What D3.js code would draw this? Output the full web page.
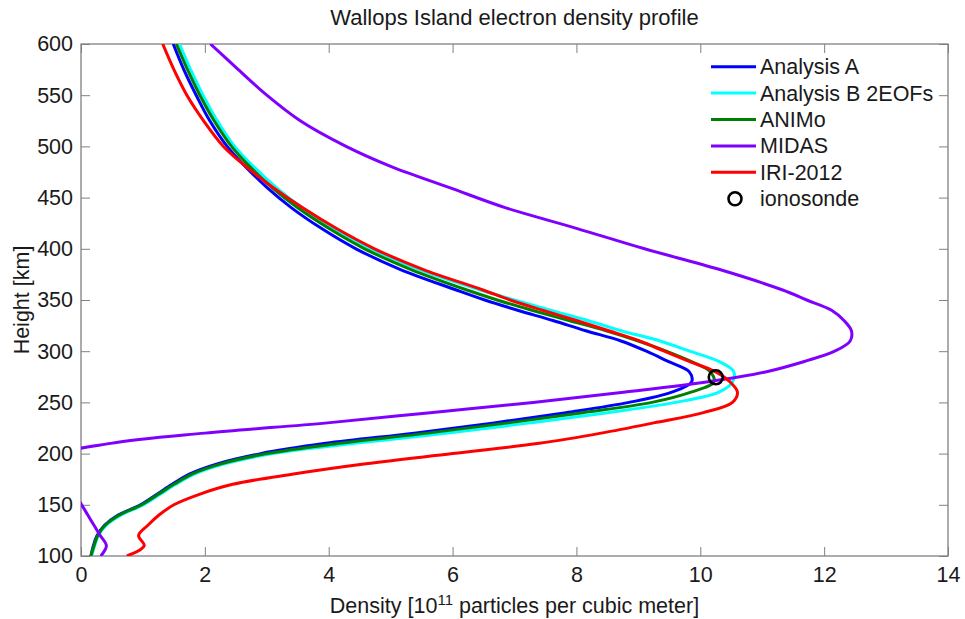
<!DOCTYPE html>
<html><head><meta charset="utf-8">
<script src="https://cdn.jsdelivr.net/npm/d3@7"></script>
<style>
body{margin:0;background:#fff}
text{font-family:"Liberation Sans",Arial,Helvetica,sans-serif}
</style>
</head><body>
<svg id="c" width="965" height="619"></svg>
<script>
// ---- data ----
const heights = [100,110,120,130,140,150,160,170,180,190,200,210,220,230,240,250,260,270,280,290,300,310,320,330,340,350,360,380,400,420,440,460,480,500,525,550,575,600];
const analysisA = [0.16,0.20,0.26,0.38,0.60,0.96,1.22,1.47,1.75,2.20,2.90,3.95,5.38,6.67,7.83,8.85,9.54,9.86,9.82,9.48,9.13,8.72,8.15,7.62,7.05,6.52,6.05,5.15,4.44,3.88,3.40,3.00,2.66,2.36,2.08,1.86,1.66,1.49];
const analysisB = [0.17,0.22,0.28,0.41,0.65,1.01,1.27,1.53,1.83,2.32,3.10,4.42,5.92,7.25,8.50,9.60,10.30,10.52,10.54,10.30,9.83,9.35,8.72,8.18,7.58,7.00,6.44,5.45,4.67,4.07,3.57,3.15,2.79,2.48,2.20,1.97,1.77,1.59];
const animo     = [0.16,0.21,0.27,0.39,0.62,0.98,1.24,1.50,1.79,2.26,3.00,4.18,5.60,6.90,8.10,9.22,9.85,10.22,10.16,9.85,9.45,9.00,8.48,7.88,7.28,6.72,6.22,5.32,4.58,4.00,3.50,3.08,2.73,2.43,2.15,1.92,1.72,1.54];
const midas     = [0.32,0.41,0.31,0.21,0.11,0.01,-0.10,-0.20,-0.30,-0.35,-0.25,0.48,2.00,3.98,5.64,7.30,8.76,10.10,11.07,11.68,12.17,12.42,12.44,12.32,12.12,11.72,11.32,10.30,9.10,8.00,6.86,5.94,5.02,4.28,3.54,3.00,2.54,2.09];
const iri2012   = [0.74,1.02,0.93,1.08,1.26,1.50,1.90,2.45,3.43,4.60,6.00,7.40,8.40,9.25,10.05,10.52,10.60,10.48,10.24,9.82,9.42,9.02,8.52,8.00,7.45,6.93,6.48,5.52,4.74,4.12,3.58,3.10,2.67,2.30,1.98,1.71,1.50,1.32];
const ionosonde = {density: 10.25, height: 274.5};
const seriesNames  = ["Analysis A","Analysis B 2EOFs","ANIMo","MIDAS","IRI-2012"];
const seriesValues = [analysisA, analysisB, animo, midas, iri2012];
const seriesColors = ["#0000ff","#00ffff","#008000","#8000ff","#ff0000"];
const xTicks = [0,2,4,6,8,10,12,14];
const yTicks = [100,150,200,250,300,350,400,450,500,550,600];

// ---- layout ----
const L = 81, R = 948, T = 44, B = 556;
const svg = d3.select("#c");
const x = d3.scaleLinear().domain([0,14]).range([L,R]);
const y = d3.scaleLinear().domain([100,600]).range([B,T]);
const axisColor = "#808080", textColor = "#1a1a1a", fs = 21.5;

svg.append("defs").append("clipPath").attr("id","clip")
  .append("rect").attr("x",L).attr("y",T).attr("width",R-L).attr("height",B-T);

function styleAxis(g, labels){
  g.select(".domain").remove();
  g.selectAll(".tick line").attr("stroke",axisColor).attr("stroke-width",1);
  if(labels) g.selectAll(".tick text").attr("fill",textColor).style("font-size",fs+"px");
  else g.selectAll(".tick text").remove();
}
svg.append("g").attr("transform",`translate(0,${B})`)
  .call(d3.axisBottom(x).tickValues(xTicks).tickFormat(d3.format("d")).tickSize(-9).tickPadding(11))
  .call(g=>styleAxis(g,true));
svg.append("g").attr("transform",`translate(0,${T})`)
  .call(d3.axisTop(x).tickValues(xTicks).tickSize(-9))
  .call(g=>styleAxis(g,false));
svg.append("g").attr("transform",`translate(${L},0)`)
  .call(d3.axisLeft(y).tickValues(yTicks).tickFormat(d3.format("d")).tickSize(-9).tickPadding(8))
  .call(g=>styleAxis(g,true));
svg.append("g").attr("transform",`translate(${R},0)`)
  .call(d3.axisRight(y).tickValues(yTicks).tickSize(-9))
  .call(g=>styleAxis(g,false));
svg.append("rect").attr("x",L).attr("y",T).attr("width",R-L).attr("height",B-T)
  .attr("fill","none").attr("stroke",axisColor).attr("stroke-width",1.3);

// ---- lines ----
const line = d3.line().x(d=>x(d[0])).y(d=>y(d[1])).curve(d3.curveCatmullRom.alpha(0.5));
const plot = svg.append("g").attr("clip-path","url(#clip)");
seriesValues.forEach((vals,i)=>{
  plot.append("path").datum(vals.map((v,j)=>[v,heights[j]]))
    .attr("d",line).attr("fill","none").attr("stroke",seriesColors[i])
    .attr("stroke-width",3).attr("stroke-linejoin","round");
});
plot.append("circle").attr("cx",x(ionosonde.density)).attr("cy",y(ionosonde.height))
  .attr("r",7).attr("fill","none").attr("stroke","#000").attr("stroke-width",2.6);

// ---- legend ----
const lg = svg.append("g");
const rowY = i => 66.7 + i*26.4;
seriesNames.forEach((n,i)=>{
  lg.append("line").attr("x1",711).attr("x2",756).attr("y1",rowY(i)).attr("y2",rowY(i))
    .attr("stroke",seriesColors[i]).attr("stroke-width",3);
  lg.append("text").attr("x",760).attr("y",rowY(i)+7.5).attr("fill",textColor)
    .style("font-size",fs+"px").text(n);
});
lg.append("circle").attr("cx",735).attr("cy",rowY(5)).attr("r",6.5)
  .attr("fill","none").attr("stroke","#000").attr("stroke-width",2.6);
lg.append("text").attr("x",760).attr("y",rowY(5)+7.5).attr("fill",textColor)
  .style("font-size",fs+"px").text("ionosonde");

// ---- titles ----
svg.append("text").attr("x",(L+R)/2).attr("y",25).attr("text-anchor","middle")
  .attr("fill",textColor).style("font-size","22px").text("Wallops Island electron density profile");
const xl = svg.append("text").attr("x",(L+R)/2).attr("y",613).attr("text-anchor","middle")
  .attr("fill",textColor).style("font-size",fs+"px");
xl.append("tspan").text("Density [10");
xl.append("tspan").attr("dy",-8).style("font-size","15px").text("11");
xl.append("tspan").attr("dy",8).text(" particles per cubic meter]");
svg.append("text").attr("transform","translate(29,300) rotate(-90)").attr("text-anchor","middle")
  .attr("fill",textColor).style("font-size",fs+"px").text("Height [km]");
</script>
</body></html>
